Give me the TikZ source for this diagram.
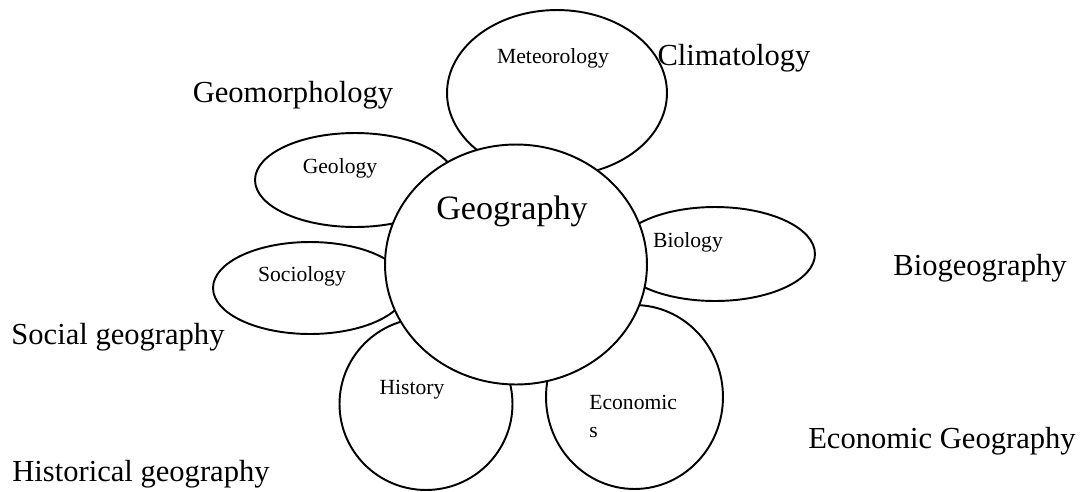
\documentclass[tikz,border=0pt]{standalone}
\usepackage{fontspec}
\setmainfont{Liberation Serif}
\usetikzlibrary{shapes.geometric}

\begin{document}
\begin{tikzpicture}[x=0.02cm,y=-0.02cm,
  petal/.style={draw,ellipse,line width=1.1pt,inner sep=0pt},
  hub/.style={petal,fill=white},
  small/.style={font=\fontsize{12.3}{15.9}\selectfont,inner sep=0pt},
  big/.style={font=\fontsize{17.4}{20}\selectfont,inner sep=0pt}]
\useasboundingbox (0,0) rectangle (1083,491);
% petals
\node[petal,minimum width=4.4cm,minimum height=3.32cm] (meteo) at (557,93) {};
\node[petal,minimum width=4.0cm,minimum height=1.88cm] (geol) at (355,180) {};
\node[petal,minimum width=3.88cm,minimum height=1.84cm] (socio) at (310,288) {};
\node[petal,minimum width=4.0cm,minimum height=1.88cm] (bio) at (715,254) {};
\node[petal,minimum width=3.46cm,minimum height=3.44cm] (hist) at (426,404) {};
\node[petal,minimum width=3.54cm,minimum height=3.68cm] (econ) at (634.5,397) {};
% centre
\node[hub,minimum width=5.24cm,minimum height=4.8cm] (geog) at (516,264.5) {};
% labels inside
\node[small] (meteolabel) at (553,58) {Meteorology};
\node[small] (geollabel) at (340,168) {Geology};
\node[small] (sociolabel) at (302,276) {Sociology};
\node[small] (biolabel) at (688,242) {Biology};
\node[small] (histlabel) at (412,390) {History};
\node[small,align=left,anchor=base west] (econlabel) at (589,437) {Economic\\s};
\node[font=\fontsize{19.4}{22}\selectfont,inner sep=0pt] (geoglabel) at (512,211) {Geography};
% fields
\node[big] (clim) at (734,58) {Climatology};
\node[big] (geomorph) at (293,95) {Geomorphology};
\node[big] (biogeo) at (980,268) {Biogeography};
\node[big] (socgeo) at (118,337) {Social geography};
\node[big] (ecogeo) at (942,441) {Economic Geography};
\node[big] (histgeo) at (141,474) {Historical geography};
\end{tikzpicture}
\end{document}
